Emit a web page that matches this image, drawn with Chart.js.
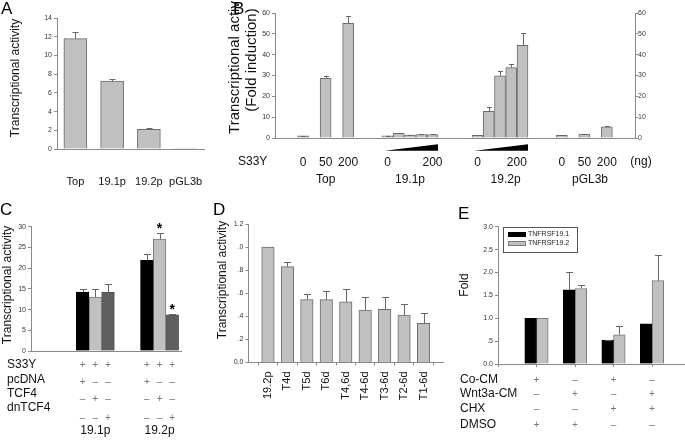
<!DOCTYPE html>
<html>
<head>
<meta charset="utf-8">
<script src="https://cdn.jsdelivr.net/npm/chart.js@4.4.1/dist/chart.umd.min.js"></script>
<style>
  html, body { margin: 0; padding: 0; background: #fff; overflow: hidden; }
  body { width: 685px; height: 443px; position: relative; font-family: 'Liberation Sans', Arial, sans-serif; }
  canvas { position: absolute; }
  .tag { position: absolute; font-size: 17px; line-height: 17px; color: #000; z-index: 2; }
</style>
</head>
<body>
<canvas id="chartA" width="215" height="200" style="left:0;top:0"></canvas>
<canvas id="chartB" width="459" height="200" style="left:226px;top:0"></canvas>
<canvas id="chartC" width="200" height="243" style="left:0;top:200px"></canvas>
<canvas id="chartD" width="250" height="243" style="left:205px;top:200px"></canvas>
<canvas id="chartE" width="240" height="243" style="left:455px;top:200px"></canvas>
<div class="tag" style="left:1px;top:0">A</div>
<div class="tag" style="left:233px;top:0">B</div>
<div class="tag" style="left:0;top:201px">C</div>
<div class="tag" style="left:213px;top:201px">D</div>
<div class="tag" style="left:458px;top:205px">E</div>
<script>
// ---- data ----
// A
const aLabels = ['Top', '19.1p', '19.2p', 'pGL3b'];
const aValues = [11.8, 7.25, 2.1, 0.05];
const aErrors = [0.7, 0.25, 0.1, 0];

// B
const bGroups = ['Top', '19.1p', '19.2p', 'pGL3b'];
const bValues = [[1.0, 28.7, 55.0], [1.1, 2.3, 1.4, 1.7, 1.7], [1.3, 12.8, 29.8, 33.8, 44.5], [1.3, 1.9, 5.4]];
const bErrors = [[0.2, 1.1, 3.4], [0.1, 0.1, 0.1, 0.1, 0.2], [0.1, 1.9, 2.4, 1.5, 6.1], [0.1, 0.1, 0.2]];
const bDoses = [['0', '50', '200'], ['0', '200'], ['0', '200'], ['0', '50', '200']];

// C
const cGroups = ['19.1p', '19.2p'];
const cSeries = ['pcDNA', 'TCF4', 'dnTCF4'];
const cValues = [[14.2, 21.9], [13.0, 27.0], [14.2, 8.7]];
const cErrors = [[0.8, 1.4], [2.0, 1.4], [1.9, 0.3]];
const cStars = [['', ''], ['', '*'], ['', '*']];
const cRows = ['S33Y', 'pcDNA', 'TCF4', 'dnTCF4'];
const cSigns = [['+', '+', '+'], ['+', '–', '–'], ['–', '+', '–'], ['–', '–', '+']];

// D
const dLabels = ['19.2p', 'T4d', 'T5d', 'T6d', 'T4,6d', 'T4-6d', 'T3-6d', 'T2-6d', 'T1-6d'];
const dValues = [1.0, 0.83, 0.545, 0.545, 0.525, 0.455, 0.46, 0.41, 0.34];
const dErrors = [0, 0.04, 0.045, 0.075, 0.115, 0.11, 0.11, 0.1, 0.085];

// E
const eSeries = ['TNFRSF19.1', 'TNFRSF19.2'];
const eValues = [[1.0, 1.62, 0.52, 0.88], [1.0, 1.65, 0.64, 1.82]];
const eErrors = [[0, 0.38, 0.01, 0], [0, 0.08, 0.2, 0.57]];
const eRows = ['Co-CM', 'Wnt3a-CM', 'CHX', 'DMSO'];
const eSigns = [['+', '–', '+', '–'], ['–', '+', '–', '+'], ['–', '–', '+', '+'], ['+', '+', '–', '–']];

// ---- layout (category slots, offsets) ----
const B_SLOTS = 65;
const bSlots = [[5, 9, 13], [20, 22, 24, 26, 28], [36, 38, 40, 42, 44], [51, 55, 59]];
const bDoseSlots = [[5, 9, 13], [20, 28], [36, 43], [51, 55, 59]];
const bNameSlots = [9, 24, 41, 56];
const cSlots = [3, 6];
const cRowDy = [14, 29, 43, 57];
const cSignDy = [14, 31, 48, 67];
const eRowDy = [16, 30, 45, 61];

const FONT = "'Liberation Sans', Arial, sans-serif";
const AXIS = '#8a8a8a';
const GRAY = '#c0c0c0';
Chart.defaults.font.family = FONT;
Chart.defaults.color = '#333';
Chart.defaults.animation = false;

const pad = arr => [null, ...arr, null];
const shortNum = v => {
  const s = v.toFixed(1);
  return (v > 0 && v < 1) ? s.slice(1) : s;
};

// upward error bars
const errorBars = {
  id: 'errorBars',
  afterDatasetsDraw(chart, args, opts) {
    const ctx = chart.ctx;
    chart.data.datasets.forEach((ds, i) => {
      if (!ds.errors) return;
      const meta = chart.getDatasetMeta(i);
      const yScale = chart.scales[meta.yAxisID];
      meta.data.forEach((bar, j) => {
        const v = ds.data[j], e = ds.errors[j];
        if (v == null || !e) return;
        const x = Math.round(bar.x) + 0.5;
        const yTop = Math.round(yScale.getPixelForValue(v + e)) + 0.5;
        ctx.save();
        ctx.strokeStyle = '#666';
        ctx.lineWidth = 1;
        ctx.beginPath();
        ctx.moveTo(x, bar.y);
        ctx.lineTo(x, yTop);
        ctx.moveTo(x - opts.cap, yTop);
        ctx.lineTo(x + opts.cap, yTop);
        ctx.stroke();
        ctx.restore();
      });
    });
  }
};

// rotated y axis title, placed where the figure has it
const yTitle = {
  id: 'yTitle',
  afterDraw(chart, args, opts) {
    const ctx = chart.ctx;
    ctx.save();
    ctx.font = opts.size + 'px ' + FONT;
    ctx.fillStyle = '#111';
    ctx.textAlign = 'center';
    ctx.textBaseline = 'middle';
    opts.lines.forEach((line, i) => {
      ctx.save();
      ctx.translate(opts.x + i * (opts.gap || 0), opts.y);
      ctx.rotate(-Math.PI / 2);
      ctx.fillText(line, 0, 0);
      ctx.restore();
    });
    ctx.restore();
  }
};

function valueAxis(min, max, step, width, fmt) {
  return {
    min: min, max: max,
    afterFit: s => { s.width = width; },
    grid: { drawOnChartArea: false, tickLength: 3, color: AXIS },
    border: { color: AXIS },
    ticks: { stepSize: step, padding: 2, font: { size: 7 }, color: '#333', callback: fmt || (v => v) }
  };
}

function categoryAxis(height, extra) {
  return Object.assign({
    offset: false,
    afterFit: s => { s.height = height; s.paddingLeft = 0; s.paddingRight = 0; },
    grid: { display: false, drawTicks: false },
    border: { color: AXIS }
  }, extra);
}

// ---- A ----
new Chart(document.getElementById('chartA'), {
  type: 'bar',
  data: {
    labels: aLabels,
    datasets: [{ data: aValues, errors: aErrors, backgroundColor: GRAY, borderColor: '#6d6d6d', borderWidth: 1, barThickness: 23 }]
  },
  options: {
    responsive: false,
    layout: { padding: { top: 18, right: 11, left: 0, bottom: 0 } },
    plugins: {
      legend: { display: false }, tooltip: { enabled: false }, errorBars: { cap: 3 },
      yTitle: { lines: ['Transcriptional activity'], x: 16, y: 78, size: 12 }
    },
    scales: {
      x: categoryAxis(51, {
        offset: true,
        ticks: { autoSkip: false, maxRotation: 0, minRotation: 0, padding: 26, font: { size: 11 }, color: '#111' }
      }),
      y: valueAxis(0, 14, 2, 57)
    }
  },
  plugins: [errorBars, yTitle]
});

// ---- B ----
const bLabels = new Array(B_SLOTS).fill('');
const bData = new Array(B_SLOTS).fill(null);
const bErr = new Array(B_SLOTS).fill(null);
bSlots.forEach((slots, g) => slots.forEach((s, k) => { bData[s] = bValues[g][k]; bErr[s] = bErrors[g][k]; }));
bDoseSlots.forEach((slots, g) => slots.forEach((s, k) => { bLabels[s] = bDoses[g][k]; }));

const bExtras = {
  id: 'bExtras',
  afterDraw(chart) {
    const { ctx, chartArea } = chart;
    const x = chart.scales.x;
    ctx.save();
    ctx.font = '12px ' + FONT;
    ctx.fillStyle = '#111';
    ctx.textBaseline = 'middle';
    ctx.textAlign = 'left';
    ctx.fillText('S33Y', chartArea.left - 37, chartArea.bottom + 24);
    ctx.textAlign = 'center';
    ctx.fillText('(ng)', chartArea.right + 6, chartArea.bottom + 24);
    bGroups.forEach((g, i) => ctx.fillText(g, x.getPixelForValue(bNameSlots[i]), chartArea.bottom + 42));
    // dose wedges under the titrated groups
    ctx.fillStyle = '#000';
    [1, 2].forEach(g => {
      const s = bSlots[g];
      const x0 = x.getPixelForValue(s[0]) - 3;
      const x1 = x.getPixelForValue(s[s.length - 1]) + 5.5;
      ctx.beginPath();
      ctx.moveTo(x0, chartArea.bottom + 12.7);
      ctx.lineTo(x1, chartArea.bottom + 6.3);
      ctx.lineTo(x1, chartArea.bottom + 12.7);
      ctx.closePath();
      ctx.fill();
    });
    ctx.restore();
  }
};

const bRight = valueAxis(0, 60, 10, 50);
bRight.position = 'right';
bRight.ticks.padding = 0;

new Chart(document.getElementById('chartB'), {
  type: 'bar',
  data: {
    labels: bLabels,
    datasets: [{ data: bData, errors: bErr, backgroundColor: GRAY, borderColor: '#6d6d6d', borderWidth: 1, barThickness: 11 }]
  },
  options: {
    responsive: false,
    layout: { padding: { top: 13, right: 0, left: 0, bottom: 0 } },
    plugins: {
      legend: { display: false }, tooltip: { enabled: false }, errorBars: { cap: 2.5 },
      yTitle: { lines: ['Transcriptional activity', '(Fold induction)'], x: 9, y: 60, gap: 17, size: 15 }
    },
    scales: {
      x: categoryAxis(62, {
        ticks: { autoSkip: false, maxRotation: 0, minRotation: 0, padding: 17, font: { size: 12 }, color: '#111' }
      }),
      y: valueAxis(0, 60, 10, 49),
      y2: bRight
    }
  },
  plugins: [errorBars, bExtras, yTitle]
});

// ---- C ----
const cLabels = new Array(8).fill('');
cSlots.forEach((s, g) => { cLabels[s] = cGroups[g]; });
const cColors = ['#000000', GRAY, '#5f5f5f'];
const cBorders = ['#000000', '#7a7a7a', '#505050'];
const cDatasets = cSeries.map((name, k) => {
  const data = new Array(8).fill(null);
  const errors = new Array(8).fill(null);
  cSlots.forEach((s, g) => { data[s] = cValues[k][g]; errors[s] = cErrors[k][g]; });
  return { label: name, data: data, errors: errors, backgroundColor: cColors[k], borderColor: cBorders[k], borderWidth: 1, barThickness: 12.7 };
});

const cExtras = {
  id: 'cExtras',
  afterDraw(chart) {
    const { ctx, chartArea } = chart;
    const y = chart.scales.y;
    ctx.save();
    ctx.textBaseline = 'middle';
    cRows.forEach((r, i) => {
      ctx.font = '12px ' + FONT;
      ctx.fillStyle = '#111';
      ctx.textAlign = 'left';
      ctx.fillText(r, chartArea.left - 24, chartArea.bottom + cRowDy[i]);
      ctx.font = '10px ' + FONT;
      ctx.fillStyle = '#777';
      ctx.textAlign = 'center';
      cSlots.forEach(slot => cSigns[i].forEach((s, k) => {
        const bar = chart.getDatasetMeta(k).data[slot];
        ctx.fillText(s, bar.x, chartArea.bottom + cSignDy[i]);
      }));
    });
    ctx.font = 'bold 14px ' + FONT;
    ctx.fillStyle = '#000';
    cStars.forEach((row, k) => row.forEach((star, g) => {
      if (!star) return;
      const bar = chart.getDatasetMeta(k).data[cSlots[g]];
      const top = y.getPixelForValue(cValues[k][g] + cErrors[k][g]);
      ctx.fillText(star, bar.x, top - 4);
    }));
    ctx.restore();
  }
};

new Chart(document.getElementById('chartC'), {
  type: 'bar',
  data: { labels: cLabels, datasets: cDatasets },
  options: {
    responsive: false,
    layout: { padding: { top: 26.7, right: 19, left: 0, bottom: 0 } },
    plugins: {
      legend: { display: false }, tooltip: { enabled: false }, errorBars: { cap: 3.5 },
      yTitle: { lines: ['Transcriptional activity'], x: 7.5, y: 85, size: 12 }
    },
    scales: {
      x: categoryAxis(92, {
        ticks: { autoSkip: false, maxRotation: 0, minRotation: 0, padding: 72, font: { size: 12 }, color: '#111' }
      }),
      y: valueAxis(0, 30, 5, 31)
    }
  },
  plugins: [errorBars, cExtras, yTitle]
});

// ---- D ----
new Chart(document.getElementById('chartD'), {
  type: 'bar',
  data: {
    labels: pad(dLabels).map(l => l || ''),
    datasets: [{ data: pad(dValues), errors: pad(dErrors), backgroundColor: GRAY, borderColor: '#6d6d6d', borderWidth: 1, barThickness: 12.5 }]
  },
  options: {
    responsive: false,
    layout: { padding: { top: 24, right: 12, left: 0, bottom: 0 } },
    plugins: {
      legend: { display: false }, tooltip: { enabled: false }, errorBars: { cap: 3.5 },
      yTitle: { lines: ['Transcriptional activity'], x: 18, y: 80, size: 12 }
    },
    scales: {
      x: categoryAxis(80.5, {
        grid: { drawOnChartArea: false, offset: true, tickLength: 3, color: AXIS },
        ticks: { autoSkip: false, maxRotation: 90, minRotation: 90, padding: 6, font: { size: 11 }, color: '#111' }
      }),
      y: valueAxis(0, 1.2, 0.2, 43.5, shortNum)
    }
  },
  plugins: [errorBars, yTitle]
});

// ---- E ----
const eLegend = {
  id: 'eLegend',
  afterDraw(chart) {
    const { ctx, chartArea } = chart;
    const left = Math.round(chartArea.left + 5), top = Math.round(chartArea.top);
    ctx.save();
    ctx.strokeStyle = '#555';
    ctx.lineWidth = 1;
    ctx.strokeRect(left + 0.5, top + 0.5, 74, 25);
    chart.data.datasets.forEach((ds, i) => {
      const y = top + 5 + i * 9;
      ctx.fillStyle = ds.backgroundColor;
      ctx.fillRect(left + 5, y, 18, 5);
      ctx.strokeStyle = ds.borderColor;
      ctx.strokeRect(left + 5.5, y + 0.5, 17, 4);
      ctx.fillStyle = '#222';
      ctx.font = '7px ' + FONT;
      ctx.textBaseline = 'middle';
      ctx.textAlign = 'left';
      ctx.fillText(ds.label, left + 25, y + 2.5);
    });
    ctx.restore();
  }
};

const eExtras = {
  id: 'eExtras',
  afterDraw(chart) {
    const { ctx, chartArea } = chart;
    const x = chart.scales.x;
    ctx.save();
    ctx.textBaseline = 'middle';
    eRows.forEach((r, i) => {
      ctx.font = '12px ' + FONT;
      ctx.fillStyle = '#111';
      ctx.textAlign = 'left';
      ctx.fillText(r, chartArea.left - 38, chartArea.bottom + eRowDy[i]);
      ctx.font = '10px ' + FONT;
      ctx.fillStyle = '#777';
      ctx.textAlign = 'center';
      eSigns[i].forEach((s, g) => ctx.fillText(s, x.getPixelForValue(g + 1), chartArea.bottom + eRowDy[i]));
    });
    ctx.restore();
  }
};

const eColors = ['#000000', GRAY];
const eBorders = ['#000000', '#7a7a7a'];
new Chart(document.getElementById('chartE'), {
  type: 'bar',
  data: {
    labels: ['', '', '', '', '', ''],
    datasets: eSeries.map((name, k) => ({
      label: name, data: pad(eValues[k]), errors: pad(eErrors[k]),
      backgroundColor: eColors[k], borderColor: eBorders[k], borderWidth: 1, barThickness: 11.7
    }))
  },
  options: {
    responsive: false,
    layout: { padding: { top: 26.7, right: 4.5, left: 0, bottom: 0 } },
    plugins: {
      legend: { display: false }, tooltip: { enabled: false }, errorBars: { cap: 3.5 },
      yTitle: { lines: ['Fold'], x: 10, y: 85, size: 12 }
    },
    scales: {
      x: categoryAxis(79, {
        grid: { drawOnChartArea: false, offset: false, tickLength: 3, color: AXIS },
        ticks: { display: false, autoSkip: false }
      }),
      y: valueAxis(0, 3, 0.5, 43, shortNum)
    }
  },
  plugins: [errorBars, eLegend, eExtras, yTitle]
});
</script>
</body>
</html>
